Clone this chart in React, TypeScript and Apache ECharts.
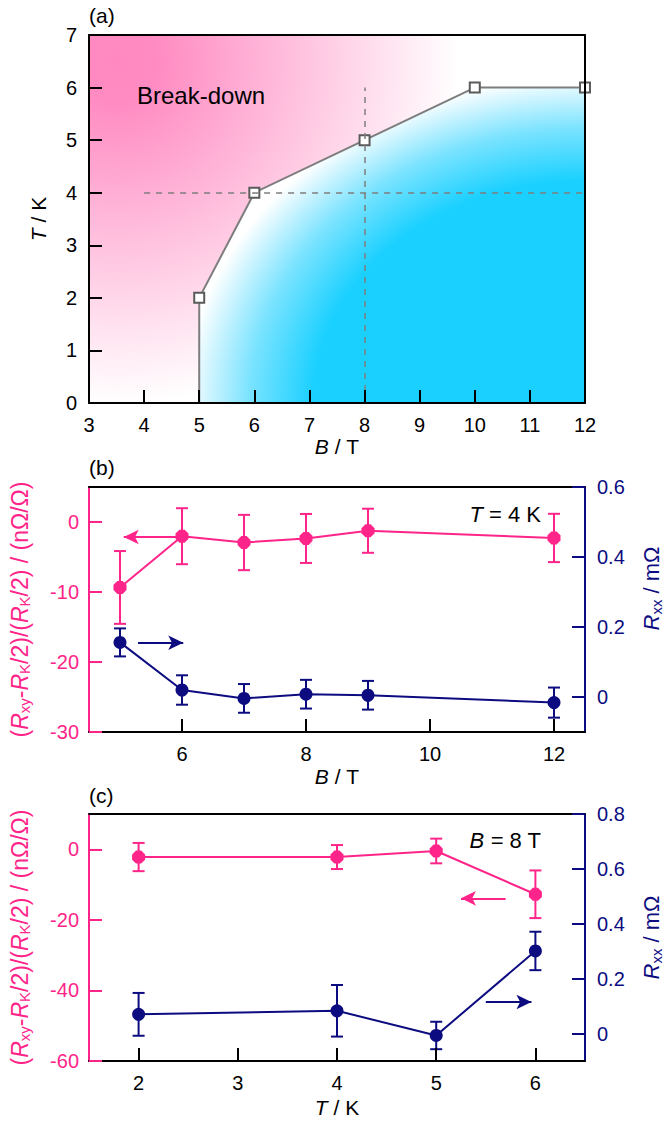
import React, { useEffect, useRef } from 'react';
import * as echarts from 'echarts';

// ---------------- data ----------------
// (a) phase boundary
const phaseField = [5, 5, 6, 8, 10, 12];
const phaseTemp = [0, 2, 4, 5, 6, 6];
const phaseHasMarker = [false, true, true, true, true, true];
const guideTempLine = [[4, 4], [12, 4]];
const guideFieldLine = [[8, 0], [8, 6]];
// background shading anchors (data coords): pink centre and where it fades to white
const pinkCentre = [3.5, 6.5];
const pinkEdge = [9.7, 7];

// (b) T = 4 K, vs B
const fieldB = [5, 6, 7, 8, 9, 12];
const devB = [-9.35, -2.03, -2.93, -2.35, -1.25, -2.28];
const devErrB = [5.2, 4.0, 3.95, 3.5, 3.15, 3.45];
const rxxB = [0.156, 0.02, -0.004, 0.008, 0.005, -0.016];
const rxxErrB = [0.04, 0.042, 0.041, 0.041, 0.041, 0.043];
const arrowDevB = [[5.94, -2.14], [5.06, -2.14]];
const arrowRxxB = [[5.29, 0.155], [6.02, 0.155]];

// (c) B = 8 T, vs T
const tempC = [2, 4, 5, 6];
const devC = [-2.2, -2.2, -0.48, -12.75];
const devErrC = [4.0, 3.4, 3.5, 6.75];
const rxxC = [0.07, 0.083, -0.007, 0.301];
const rxxErrC = [0.078, 0.094, 0.05, 0.07];
const arrowDevC = [[5.7, -13.9], [5.25, -13.9]];
const arrowRxxC = [[5.5, 0.115], [5.96, 0.115]];

// tick values
const ticksBX = [6, 8, 10, 12];
const ticksBLeft = [-30, -20, -10, 0];
const ticksBRight = [0, 0.2, 0.4, 0.6];
const ticksCX = [2, 3, 4, 5, 6];
const ticksCLeft = [-60, -40, -20, 0];
const ticksCRight = [0, 0.2, 0.4, 0.6, 0.8];

// ---------------- styles ----------------
const FONT = "'Liberation Sans', Arial, Helvetica, sans-serif";
const PINK = '#ff2489';
const NAVY = '#0c0c80';
const GREY = '#7d7d7d';
const BLACK = '#000000';
const TICK_FS = 20;
const NAME_FS = 21;

const richFor = (color: string, fs: number, sub: number) => ({
  i: { fontStyle: 'italic', fontSize: fs, fontFamily: FONT, color },
  n: { fontSize: fs, fontFamily: FONT, color },
  s: { fontSize: sub, fontFamily: FONT, color, padding: [10, 0, 0, 0] },
  sp: { fontSize: fs, fontFamily: FONT, color, width: 42 },
});

const nameStyle = (color: string, fs = NAME_FS, sub = 15) => ({
  color,
  fontSize: fs,
  fontFamily: FONT,
  rich: richFor(color, fs, sub),
});

const mainAxis = (gridIndex: number, color: string, extra: any) => ({
  gridIndex,
  type: 'value',
  axisLine: { show: true, onZero: false, lineStyle: { color, width: 2 } },
  axisTick: { show: true, inside: true, length: 13, lineStyle: { color, width: 2 } },
  axisLabel: { color, fontSize: TICK_FS, fontFamily: FONT, margin: 12 },
  splitLine: { show: false },
  nameLocation: 'middle',
  nameTextStyle: nameStyle(color),
  z: 5,
  ...extra,
});

const lineOnlyAxis = (gridIndex: number, position: string, color: string, min: number, max: number) => ({
  gridIndex,
  type: 'value',
  position,
  min,
  max,
  axisLine: { show: true, onZero: false, lineStyle: { color, width: 2 } },
  axisTick: { show: false },
  axisLabel: { show: false },
  splitLine: { show: false },
  z: 5,
});

const customTicks = (values: number[], color: string, margin: number, fmt?: (v: number) => string) => ({
  axisTick: { show: true, inside: true, length: 13, customValues: values, lineStyle: { color, width: 2 } },
  axisLabel: { customValues: values, formatter: fmt, color, fontSize: TICK_FS, fontFamily: FONT, margin },
});

const fmtRight = (v: number) => (v === 0 ? '0' : v.toFixed(1));

const errorSeries = (
  xs: number[], ys: number[], errs: number[], xAxisIndex: number, yAxisIndex: number, color: string,
) => ({
  type: 'custom',
  xAxisIndex,
  yAxisIndex,
  silent: true,
  z: 2,
  data: xs.map((x, i) => [x, ys[i] - errs[i], ys[i] + errs[i]]),
  renderItem: (params: any, api: any) => {
    const x = api.value(0);
    const lo = api.coord([x, api.value(1)]);
    const hi = api.coord([x, api.value(2)]);
    const hw = 6;
    const style = { stroke: color, lineWidth: 2, fill: 'none' };
    return {
      type: 'group',
      children: [
        { type: 'line', shape: { x1: lo[0], y1: lo[1], x2: hi[0], y2: hi[1] }, style },
        { type: 'line', shape: { x1: lo[0] - hw, y1: lo[1], x2: lo[0] + hw, y2: lo[1] }, style },
        { type: 'line', shape: { x1: hi[0] - hw, y1: hi[1], x2: hi[0] + hw, y2: hi[1] }, style },
      ],
    };
  },
});

const OCTAGON = 'path://M3,0 L7,0 L10,3 L10,7 L7,10 L3,10 L0,7 L0,3 Z';

const pointSeries = (
  xs: number[], ys: number[], xAxisIndex: number, yAxisIndex: number, color: string, symbol: string, arrow: number[][],
) => ({
  type: 'line',
  xAxisIndex,
  yAxisIndex,
  z: 3,
  data: xs.map((x, i) => [x, ys[i]]),
  symbol,
  symbolSize: 13,
  showSymbol: true,
  itemStyle: { color },
  lineStyle: { color, width: 2 },
  markLine: {
    silent: true,
    symbol: ['none', 'arrow'],
    symbolSize: [11, 15],
    label: { show: false },
    lineStyle: { color, width: 2, type: 'solid' },
    data: [[{ coord: arrow[0] }, { coord: arrow[1] }]],
  },
});

const txt = (x: number, y: number, text: string, align: string, color = BLACK, fontSize = NAME_FS, rich?: any) => ({
  type: 'text',
  x,
  y,
  silent: true,
  style: {
    text,
    fill: color,
    fontSize,
    fontFamily: FONT,
    align,
    verticalAlign: 'middle',
    textAlign: align,
    textVerticalAlign: 'middle',
    rich,
  },
});

const DEV_NAME = '{n|(}{i|R}{s|xy}{n|-}{i|R}{s|K}{n|/2)/(}{i|R}{s|K}{n|/2) / (nΩ/Ω)}';
const RXX_NAME = '{i|R}{s|xx}{n| / mΩ}';

export default function App() {
  const ref = useRef<HTMLDivElement>(null);

  useEffect(() => {
    const chart = echarts.init(ref.current!, null, { renderer: 'svg' });

    const cyanFill = new echarts.graphic.RadialGradient(1, 1, 1.036, [
      { offset: 0, color: '#1ad0ff' },
      { offset: 0.68, color: '#1ad0ff' },
      { offset: 0.84, color: '#7ae3ff' },
      { offset: 0.94, color: '#cdf4ff' },
      { offset: 1, color: '#ffffff' },
    ]);

    const italicRich = (color: string, fs: number) => ({
      i: { fontStyle: 'italic', fontSize: fs, fontFamily: FONT, color },
      n: { fontSize: fs, fontFamily: FONT, color },
    });

    const option: any = {
      animation: false,
      backgroundColor: '#ffffff',
      textStyle: { fontFamily: FONT },
      grid: [
        { left: 89, top: 35, width: 496, height: 368, show: true, backgroundColor: '#ffffff', borderWidth: 0, outerBoundsMode: 'none', containLabel: false },
        { left: 89, top: 487, width: 496, height: 245, outerBoundsMode: 'none', containLabel: false },
        { left: 89, top: 814, width: 496, height: 247, outerBoundsMode: 'none', containLabel: false },
      ],
      xAxis: [
        mainAxis(0, BLACK, {
          min: 3, max: 12, interval: 1,
          name: '{i|B}{n| / T}', nameGap: 25,
        }),
        lineOnlyAxis(0, 'top', BLACK, 3, 12),
        mainAxis(1, BLACK, {
          min: 4.5, max: 12.5,
          ...customTicks(ticksBX, BLACK, 12),
          name: '{i|B}{n| / T}', nameGap: 34,
        }),
        lineOnlyAxis(1, 'top', BLACK, 4.5, 12.5),
        mainAxis(2, BLACK, {
          min: 1.5, max: 6.5,
          ...customTicks(ticksCX, BLACK, 12),
          name: '{i|T}{n| / K}', nameGap: 36,
        }),
        lineOnlyAxis(2, 'top', BLACK, 1.5, 6.5),
      ],
      yAxis: [
        mainAxis(0, BLACK, {
          min: 0, max: 7, interval: 1,
          name: '{i|T}{n| / K}', nameGap: 40,
        }),
        lineOnlyAxis(0, 'right', BLACK, 0, 7),
        mainAxis(1, PINK, {
          position: 'left',
          min: -30, max: 5,
          ...customTicks(ticksBLeft, PINK, 10),
          name: DEV_NAME,
          nameGap: 57,
          nameTextStyle: nameStyle(PINK, 23, 15),
        }),
        mainAxis(1, NAVY, {
          position: 'right',
          min: -0.1, max: 0.6,
          ...customTicks(ticksBRight, NAVY, 12, fmtRight),
          name: '{sp| }' + RXX_NAME,
          nameGap: 54,
          nameTextStyle: nameStyle(NAVY, 22, 15),
        }),
        mainAxis(2, PINK, {
          position: 'left',
          min: -60, max: 10,
          ...customTicks(ticksCLeft, PINK, 10),
          name: DEV_NAME,
          nameGap: 57,
          nameTextStyle: nameStyle(PINK, 23, 15),
        }),
        mainAxis(2, NAVY, {
          position: 'right',
          min: -0.1, max: 0.8,
          ...customTicks(ticksCRight, NAVY, 12, fmtRight),
          name: RXX_NAME,
          nameGap: 54,
          nameTextStyle: nameStyle(NAVY, 22, 15),
        }),
      ],
      series: [
        {
          type: 'line',
          xAxisIndex: 0,
          yAxisIndex: 0,
          z: 3,
          data: phaseField.map((b, i) => ({
            value: [b, phaseTemp[i]],
            symbol: phaseHasMarker[i] ? 'rect' : 'none',
          })),
          symbolSize: 10,
          itemStyle: { color: '#ffffff', borderColor: '#5a5a5a', borderWidth: 2 },
          lineStyle: { color: GREY, width: 2 },
          areaStyle: { color: cyanFill, opacity: 1 },
          markLine: {
            silent: true,
            symbol: 'none',
            label: { show: false },
            lineStyle: { color: GREY, width: 1.5, type: [6, 6] },
            data: [
              [{ coord: guideTempLine[0] }, { coord: guideTempLine[1] }],
              [{ coord: guideFieldLine[0] }, { coord: guideFieldLine[1] }],
            ],
          },
        },
        errorSeries(fieldB, devB, devErrB, 2, 2, PINK),
        pointSeries(fieldB, devB, 2, 2, PINK, OCTAGON, arrowDevB),
        errorSeries(fieldB, rxxB, rxxErrB, 2, 3, NAVY),
        pointSeries(fieldB, rxxB, 2, 3, NAVY, 'circle', arrowRxxB),
        errorSeries(tempC, devC, devErrC, 4, 4, PINK),
        pointSeries(tempC, devC, 4, 4, PINK, OCTAGON, arrowDevC),
        errorSeries(tempC, rxxC, rxxErrC, 4, 5, NAVY),
        pointSeries(tempC, rxxC, 4, 5, NAVY, 'circle', arrowRxxC),
      ],
      graphic: [
        txt(89, 15, '(a)', 'left'),
        txt(89, 467, '(b)', 'left'),
        txt(89, 795, '(c)', 'left'),
        txt(137, 95, 'Break-down', 'left', BLACK, 24),
        txt(261, 300, 'Quantum Hall state', 'left', BLACK, 24),
        txt(541, 514, '{i|T}{n| = 4 K}', 'right', BLACK, 22, italicRich(BLACK, 22)),
        txt(541, 840, '{i|B}{n| = 8 T}', 'right', BLACK, 22, italicRich(BLACK, 22)),
      ],
    };

    chart.setOption(option);

    // pink "break-down" shading, placed through the axis scales
    const c = chart.convertToPixel({ gridIndex: 0 }, pinkCentre) as number[];
    const e = chart.convertToPixel({ gridIndex: 0 }, pinkEdge) as number[];
    const r = Math.hypot(e[0] - c[0], e[1] - c[1]);
    chart.setOption({
      grid: [
        {
          backgroundColor: new echarts.graphic.RadialGradient(c[0], c[1], r, [
            { offset: 0, color: '#ff88c0' },
            { offset: 0.12, color: '#ff8bc2' },
            { offset: 1, color: '#ffffff' },
          ], true),
        },
      ],
    });

    return () => chart.dispose();
  }, []);

  return (
    <div
      ref={ref}
      style={{ position: 'absolute', left: 0, top: 0, width: 664, height: 1121 }}
    />
  );
}
